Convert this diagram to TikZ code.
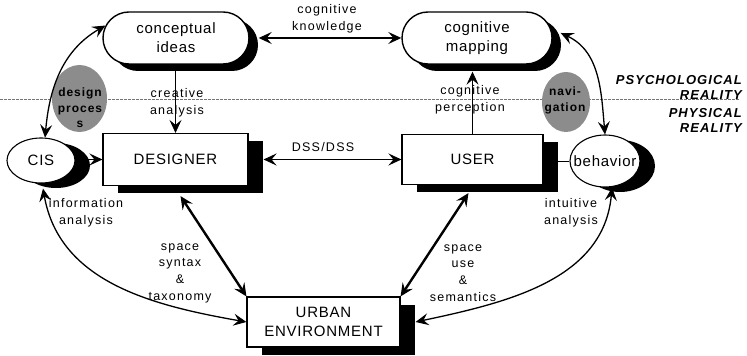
\documentclass[tikz,border=0pt]{standalone}
\usepackage{fontspec}
\setmainfont{Liberation Sans}
\newfontfamily\lblfont[LetterSpace=10]{Liberation Sans}
\newfontfamily\boxfont[LetterSpace=5]{Liberation Sans}
\newfontfamily\tagfont[LetterSpace=8]{Liberation Sans}
\usetikzlibrary{shapes.misc,shapes.geometric,shadows,arrows.meta}

\tikzset{
  pill/.style={rounded rectangle, draw, line width=1.4pt, fill=white,
    inner xsep=0pt, minimum width=146pt, minimum height=52pt, align=center,
    font=\boxfont\fontsize{15}{19}\selectfont,
    drop shadow={shadow xshift=9pt, shadow yshift=-7pt, fill=black, opacity=1}},
  panel/.style={rectangle, draw, line width=1.1pt, fill=white, align=center,
    font=\boxfont\fontsize{15}{19}\selectfont,
    drop shadow={shadow xshift=15pt, shadow yshift=-8pt, fill=black, opacity=1}},
  oval/.style={ellipse, draw, line width=1.1pt, fill=white, inner xsep=-9pt, inner ysep=0pt,
    font=\boxfont\fontsize{15}{19}\selectfont,
    drop shadow={shadow xshift=15pt, shadow yshift=-5pt, fill=black, opacity=1}},
  blob/.style={ellipse, fill=black!45, inner sep=0pt},
  blobtext/.style={align=center, inner sep=0pt, font=\tagfont\bfseries\fontsize{12}{15.5}\selectfont},
  lbl/.style={align=center, inner sep=0pt, font=\lblfont\fontsize{12.5}{16.7}\selectfont},
  reality/.style={align=right, inner sep=0pt, font=\tagfont\bfseries\itshape\fontsize{13}{15.5}\selectfont},
  flat/.style={line width=1.6pt},
  heavy/.style={line width=2.4pt},
  arc/.style={line width=1.3pt},
  feed/.style={line width=0.8pt},
}

\begin{document}
\begin{tikzpicture}[x=1pt,y=1pt,
  >={Stealth[length=13pt,width=12pt,inset=5pt]}]
\useasboundingbox (0,0) rectangle (747,356);

% boundary between psychological and physical reality
\coordinate (bl) at (0,256.5);
\coordinate (br) at (740,256.5);
\draw[black!55, line width=0.6pt, dash pattern=on 3pt off 1pt] (bl) -- (br);

% grey process blobs
\node[blob, minimum width=55pt, minimum height=67pt] (dp) at (79.5,257.5) {};
\node[blobtext] (dpt) at (80,248) {design\\proces\\s};
\node[blob, minimum width=48pt, minimum height=60pt] (nv) at (566,254) {};
\node[blobtext] (nvt) at (565,255.5) {navi-\\gation};

% main nodes
\node[pill] (ci) at (176,318) {conceptual\\ideas};
\node[pill, minimum width=150pt] (cm) at (477,318) {cognitive\\mapping};
\node[panel, minimum width=145pt, minimum height=52pt] (des) at (175.5,196.5) {DESIGNER};
\node[panel, minimum width=141pt, minimum height=50pt] (usr) at (472.5,196.5) {USER};
\node[panel, minimum width=153pt, minimum height=50pt] (urb) at (323.5,34) {URBAN\\ENVIRONMENT};
\node[oval, minimum width=68pt, minimum height=45pt] (cis) at (41,195.5) {CIS};
\node[oval, minimum width=70pt, minimum height=52pt] (beh) at (605,195) {behavior};

% connectors
\draw[flat,<->] ([xshift=9pt]ci.east) -- (cm.west);
\draw[flat,<->] ([xshift=15pt]des.east) -- (usr.west);
\draw[flat,->] (cis.east |- des.west) -- (des.west);
\draw[feed] (beh.west) -- (beh.west -| usr.east);
\draw[feed,->] (des.north |- ci.south) -- (des.north);
\draw[feed,->] (usr.north) -- ([yshift=-7pt]usr.north |- cm.south);
\draw[arc,<->] (cis.80) to[out=85,in=210] (ci.170);
\draw[arc,<->] ([xshift=8pt,yshift=5pt]cm.east) to[out=-25,in=95] (beh.north);
\draw[arc,<->] ([xshift=2pt,yshift=-5pt]cis.south) to[out=-80,in=170] (urb.west);
\draw[arc,<->] ([xshift=15pt]urb.east) to[out=12,in=-95] ([xshift=7pt]beh.south);
\draw[heavy,<->] ([xshift=5pt,yshift=-10pt]des.south) -- (urb.north west);
\draw[heavy,<->] ([xshift=-4pt,yshift=-8pt]usr.south) -- (urb.north east);

% connector labels
\node[lbl] (kn) at (327,337.5) {cognitive\\knowledge};
\node[lbl] (ca) at (177,253.5) {creative\\analysis};
\node[lbl] (cp) at (470,256) {cognitive\\perception};
\node[lbl] (dss) at (323,209) {DSS/DSS};
\node[lbl] (ia) at (86,143) {information\\analysis};
\node[lbl] (ita) at (571,143) {intuitive\\analysis};
\node[lbl] (ss) at (180,83) {space\\syntax\\\&\\taxonomy};
\node[lbl] (su) at (463,83) {space\\use\\\&\\semantics};

% reality domains
\node[reality, anchor=east] (psy) at (742,268.5) {PSYCHOLOGICAL\\REALITY};
\node[reality, anchor=east] (phy) at (742,235.5) {PHYSICAL\\REALITY};
\end{tikzpicture}
\end{document}
